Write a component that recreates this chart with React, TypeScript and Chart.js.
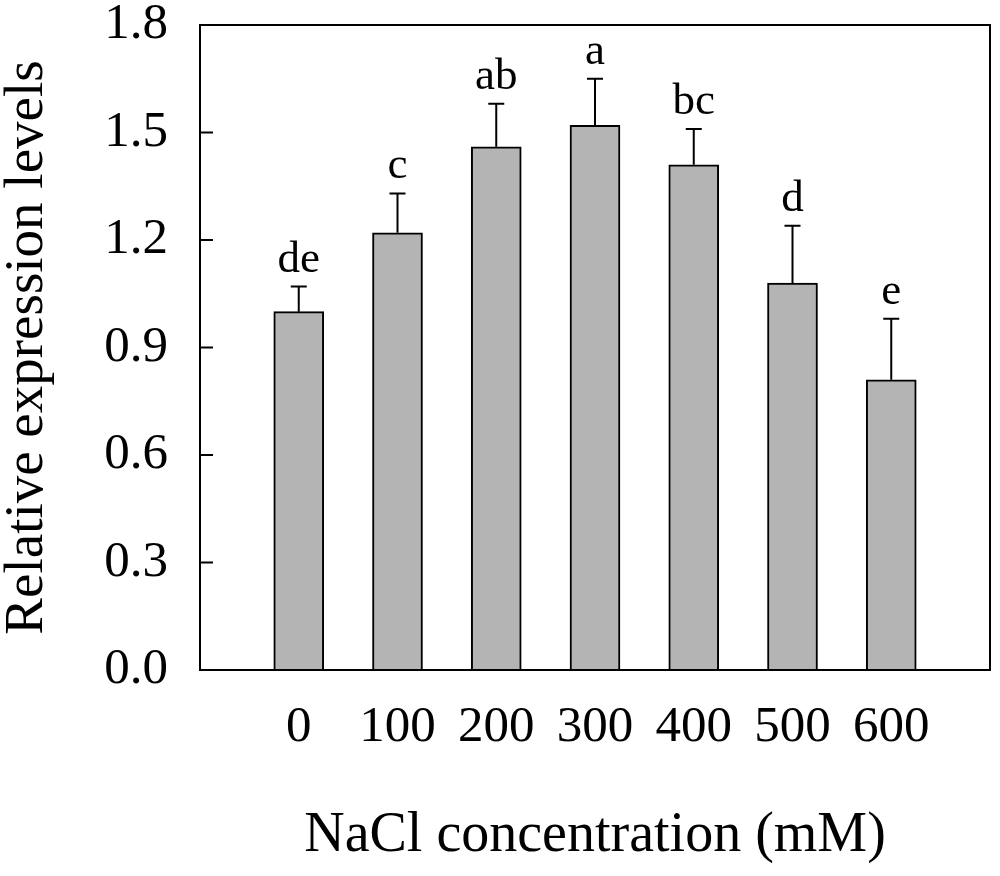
import React, { useEffect, useRef } from 'react';
import { Chart, registerables } from 'chart.js';

Chart.register(...registerables);

const concentrations = [0, 100, 200, 300, 400, 500, 600];
const expression = [1.0, 1.22, 1.46, 1.52, 1.41, 1.08, 0.81];
const errors = [0.07, 0.11, 0.12, 0.13, 0.1, 0.16, 0.17];
const letters = ['de', 'c', 'ab', 'a', 'bc', 'd', 'e'];
const yTicks = [0, 0.3, 0.6, 0.9, 1.2, 1.5, 1.8];

const FONT = '"Liberation Serif", "Times New Roman", serif';

// box around the plot, inward y ticks, error bars and significance letters
const decorations = {
    id: 'decorations',
    afterDatasetsDraw(chart: any) {
        const { ctx, chartArea, scales } = chart;
        const y = scales.y;
        const meta = chart.getDatasetMeta(0);
        ctx.save();
        ctx.strokeStyle = '#000';
        ctx.lineWidth = 2;
        ctx.strokeRect(chartArea.left, chartArea.top, chartArea.right - chartArea.left, chartArea.bottom - chartArea.top);

        y.ticks.forEach((t: any) => {
            const py = y.getPixelForValue(t.value);
            ctx.beginPath();
            ctx.moveTo(chartArea.left, py);
            ctx.lineTo(chartArea.left + 13, py);
            ctx.stroke();
        });

        ctx.fillStyle = '#000';
        ctx.font = `45px ${FONT}`;
        ctx.textAlign = 'center';
        ctx.textBaseline = 'alphabetic';
        meta.data.forEach((bar: any, i: number) => {
            const top = y.getPixelForValue(expression[i] + errors[i]);
            ctx.beginPath();
            ctx.moveTo(bar.x, bar.y);
            ctx.lineTo(bar.x, top);
            ctx.moveTo(bar.x - 8, top);
            ctx.lineTo(bar.x + 8, top);
            ctx.stroke();
            ctx.fillText(letters[i], bar.x, top - 15);
        });
        ctx.restore();
    },
};

const App: React.FC = () => {
    const chartRef = useRef<HTMLCanvasElement>(null);

    useEffect(() => {
        document.body.style.margin = '0';
        if (chartRef.current) {
            const chartInstance = new Chart(chartRef.current, {
                type: 'bar',
                data: {
                    datasets: [
                        {
                            data: concentrations.map((c, i) => ({ x: c, y: expression[i] })),
                            backgroundColor: '#b4b4b4',
                            borderColor: '#000',
                            borderWidth: 2,
                            borderSkipped: 'bottom',
                            barThickness: 50,
                        },
                    ],
                },
                options: {
                    animation: false,
                    responsive: true,
                    maintainAspectRatio: false,
                    layout: { padding: { top: 25, right: 10, left: 0, bottom: 0 } },
                    plugins: {
                        legend: { display: false },
                        tooltip: { enabled: false },
                    },
                    scales: {
                        x: {
                            type: 'linear',
                            offset: false,
                            min: -100,
                            max: 700,
                            grid: { display: false, drawTicks: false },
                            border: { display: false },
                            afterBuildTicks: (scale: any) => {
                                scale.ticks = concentrations.map((v) => ({ value: v }));
                            },
                            afterFit: (scale: any) => {
                                scale.height = 206;
                                scale.paddingLeft = 0;
                                scale.paddingRight = 0;
                            },
                            ticks: {
                                padding: 32,
                                color: '#000',
                                font: { family: FONT, size: 51, lineHeight: 1 },
                                callback: (v: any) => String(v),
                            },
                            title: {
                                display: true,
                                text: 'NaCl concentration (mM)',
                                color: '#000',
                                font: { family: FONT, size: 56, lineHeight: 1 },
                                padding: { top: 0, bottom: 12 },
                            },
                        },
                        y: {
                            min: 0,
                            max: 1.8,
                            grid: { display: false, drawTicks: false },
                            border: { display: false },
                            afterBuildTicks: (scale: any) => {
                                scale.ticks = yTicks.map((v) => ({ value: v }));
                            },
                            afterFit: (scale: any) => {
                                scale.width = 200;
                                scale.paddingTop = 0;
                                scale.paddingBottom = 0;
                            },
                            ticks: {
                                padding: 32,
                                color: '#000',
                                font: { family: FONT, size: 51, lineHeight: 1 },
                                callback: (v: any) => Number(v).toFixed(1),
                            },
                            title: {
                                display: true,
                                text: 'Relative expression levels',
                                color: '#000',
                                font: { family: FONT, size: 55, lineHeight: 1 },
                                padding: { top: 0, bottom: 0 },
                            },
                        },
                    },
                },
                plugins: [decorations],
            });

            return () => {
                chartInstance.destroy();
            };
        }
    }, []);

    return (
        <div style={{ width: 1000, height: 876, position: 'relative' }}>
            <canvas ref={chartRef} />
        </div>
    );
};

export default App;
